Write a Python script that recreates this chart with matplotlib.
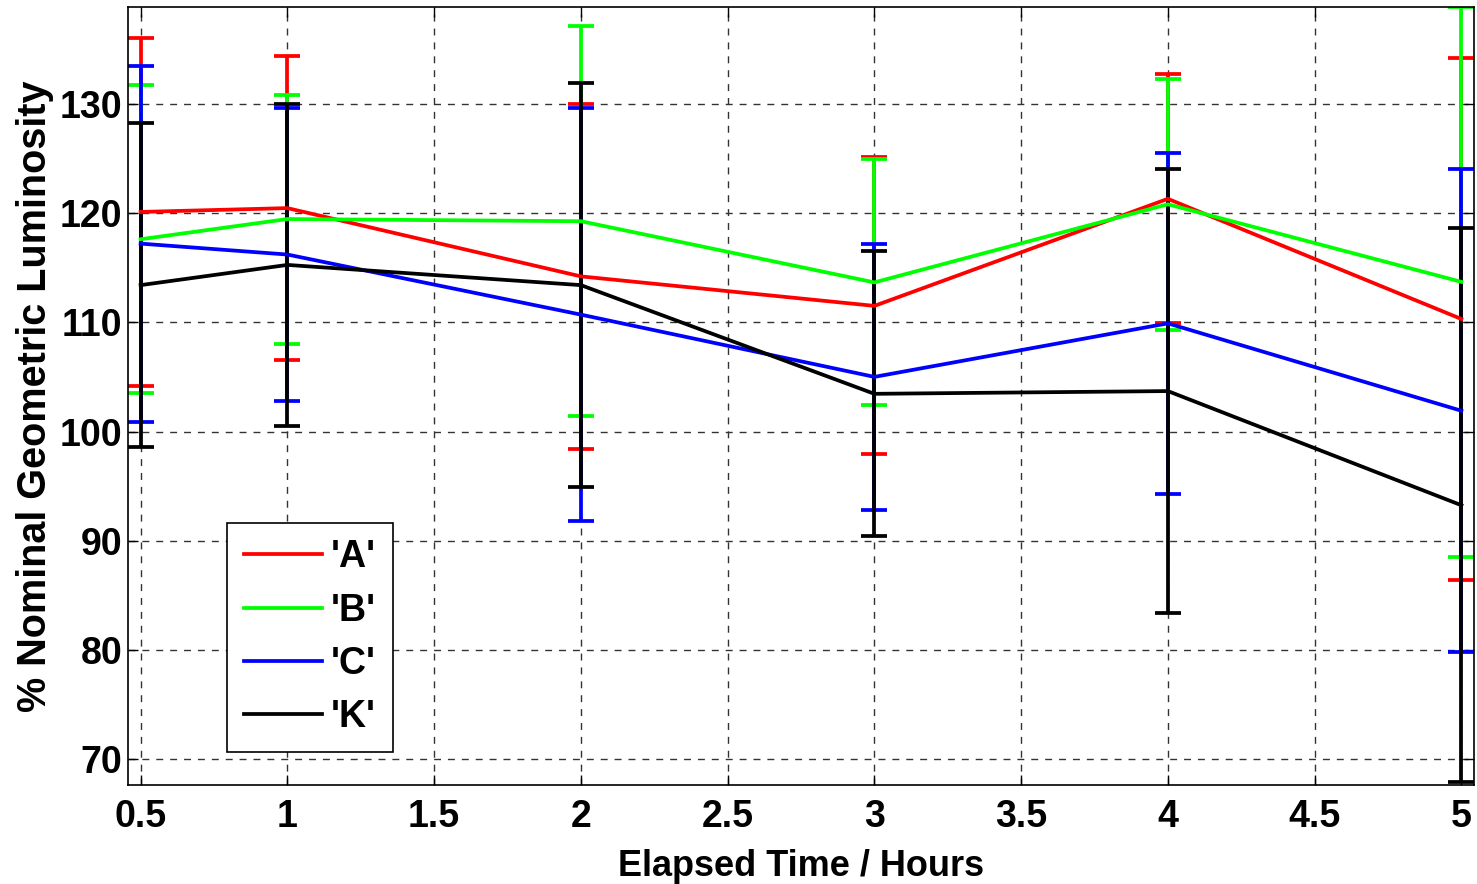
import numpy as np
import matplotlib
matplotlib.use('Agg')
import matplotlib.pyplot as plt
from matplotlib.ticker import FormatStrFormatter

plt.rcParams['font.family'] = ['Liberation Sans', 'DejaVu Sans']
plt.rcParams['font.weight'] = 'bold'

# elapsed time (hours) and mean / error for each sample
hours = [0.5, 1, 2, 3, 4, 5]

meanA = [120.1, 120.45, 114.2, 111.5, 121.3, 110.3]
errA = [15.9, 13.9, 15.8, 13.6, 11.4, 23.9]
meanB = [117.6, 119.45, 119.25, 113.65, 120.8, 113.7]
errB = [14.1, 11.4, 17.85, 11.25, 11.5, 25.2]
meanC = [117.2, 116.2, 110.7, 105.0, 109.9, 101.9]
errC = [16.3, 13.4, 18.9, 12.15, 15.6, 22.1]
meanK = [113.4, 115.25, 113.4, 103.45, 103.7, 93.25]
errK = [14.8, 14.75, 18.5, 13.05, 20.3, 25.35]

labels = ["'A'", "'B'", "'C'", "'K'"]
colours = ['#ff0000', '#00ff00', '#0000ff', '#000000']

xticks = [0.5, 1, 1.5, 2, 2.5, 3, 3.5, 4, 4.5, 5]
yticks = [70, 80, 90, 100, 110, 120, 130]

fig = plt.figure(figsize=(14.77, 8.84), dpi=100)
ax = fig.add_axes([128 / 1477, 99 / 884, 1346 / 1477, 778 / 884])

series = [(meanA, errA), (meanB, errB), (meanC, errC), (meanK, errK)]
handles = []
for (m, e), c, lab in zip(series, colours, labels):
    h = ax.errorbar(hours, m, yerr=e, color=c, lw=2.7, elinewidth=2.7,
                    capsize=9.2, capthick=2.7, label=lab)
    handles.append(h[0])

ax.set_xlim(0.457, 5.043)
ax.set_ylim(67.64, 138.86)
ax.set_xticks(xticks)
ax.set_yticks(yticks)
ax.xaxis.set_major_formatter(FormatStrFormatter('%g'))

ax.grid(True, color='#333333', linestyle=(0, (5, 5)), linewidth=1.0)
ax.set_axisbelow(True)
ax.tick_params(direction='in', length=7, width=1, top=True, right=True,
               labelsize=27)
ax.tick_params(axis='x', pad=10)
ax.tick_params(axis='y', pad=4)
for s in ax.spines.values():
    s.set_linewidth(1.2)

ax.set_xlabel('Elapsed Time / Hours', fontsize=26, fontweight='bold', labelpad=10)
ax.set_ylabel('% Nominal Geometric Luminosity', fontsize=28.5, fontweight='bold',
              labelpad=4)

leg = ax.legend(handles, labels, loc='lower left',
                bbox_to_anchor=((227 - 128) / 1346, (785 - 752) / 778),
                fontsize=27, frameon=True, fancybox=False, edgecolor='black',
                framealpha=1, handlelength=2.08, handletextpad=0.24,
                labelspacing=0.46, borderpad=0.45, borderaxespad=0)
leg.get_frame().set_linewidth(1.2)

fig.savefig('out.png', dpi=100)
